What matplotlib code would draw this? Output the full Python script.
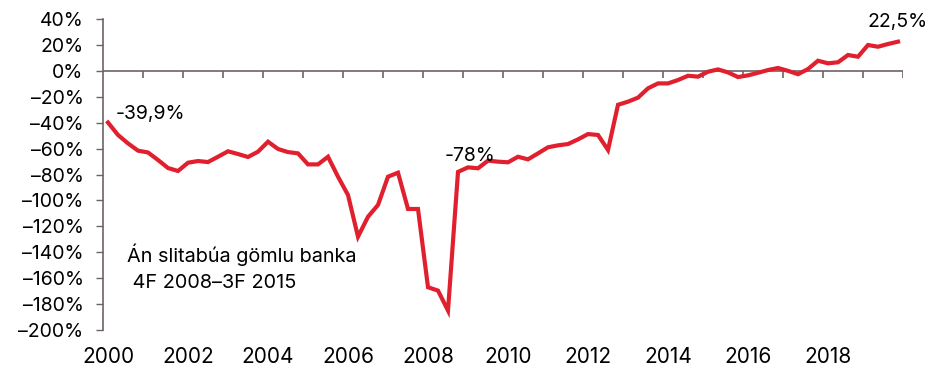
import matplotlib
matplotlib.use('Agg')
import matplotlib.pyplot as plt
import numpy as np

# Quarterly series, 2000Q1 - 2019Q4 (percent)
years = [2000, 2002, 2004, 2006, 2008, 2010, 2012, 2014, 2016, 2018]
values = [
    -39.9, -49.5, -56.0, -61.6, -63.0, -68.8, -75.0, -77.3,   # 2000-2001
    -70.9, -69.6, -70.4, -66.3, -62.1, -64.2, -66.5, -62.4,   # 2002-2003
    -54.7, -60.3, -62.7, -63.7, -72.2, -72.2, -66.3, -81.7,   # 2004-2005
    -95.8, -128.0, -112.6, -103.5, -81.7, -78.6, -106.6, -106.6,  # 2006-2007
    -167.0, -169.6, -185.0, -78.0, -74.5, -75.2, -69.3, -70.1,    # 2008-2009
    -70.6, -66.3, -68.3, -63.7, -59.0, -57.5, -56.5, -52.9,   # 2010-2011
    -48.8, -49.5, -61.1, -26.2, -23.8, -20.7, -13.5, -9.7,    # 2012-2013
    -9.7, -7.1, -3.8, -4.5, -0.7, 1.1, -1.2, -4.8,            # 2014-2015
    -3.5, -1.5, 0.6, 2.2, 0.0, -2.6, 1.4, 7.8,                # 2016-2017
    5.8, 6.6, 12.2, 10.9, 19.9, 18.6, 20.7, 22.5,             # 2018-2019
]
note_lines = ['Án slitabúa gömlu banka', ' 4F 2008\u20133F 2015']

plt.rcParams['font.family'] = ['Inter', 'DejaVu Sans']
axis_col = '#6d6266'
red = '#e0202e'
fs = 14

x = np.arange(len(values))

fig = plt.figure(figsize=(9.3, 3.7), dpi=100)
ax = fig.add_axes([103 / 930, 1 - 330 / 370, 800 / 930, 311 / 370])

ax.plot(x, values, color=red, lw=3.0, solid_joinstyle='miter', zorder=3)

ax.set_xlim(-0.5, len(values) - 0.5)
ax.set_ylim(-200, 40)

# value axis
yt = np.arange(-200, 41, 20)
ax.set_yticks(yt)
ax.set_yticklabels([f'{v}%'.replace('-', '\u2013') for v in yt], fontsize=fs)
ax.tick_params(axis='y', direction='out', length=5, width=1, color=axis_col, pad=9)

# category axis: line at zero, labels at the bottom
ax.set_xticks([years.index(y) * 8 for y in years])
ax.set_xticklabels([str(y) for y in years], fontsize=15)
ax.tick_params(axis='x', length=0, pad=12)
ax.axhline(0, color=axis_col, lw=1.2, zorder=2)
year_edges = np.arange(-0.5, len(values), 4)
ax.vlines(year_edges[1:], -5.4, 0, color=axis_col, lw=1.2, zorder=2)

for s in ['top', 'right', 'bottom']:
    ax.spines[s].set_visible(False)
ax.spines['left'].set_color(axis_col)
ax.spines['left'].set_linewidth(1.2)

def fmt(v):
    s = f'{v:.1f}'.replace('.', ',')
    return s[:-2] if s.endswith(',0') else s

ax.text(0.8, values[0] + 2.7, fmt(values[0]) + '%', fontsize=fs, ha='left', va='baseline')
ax.text(36.2, values[35] + 8.3, fmt(values[35]) + '%', fontsize=fs, ha='center', va='baseline')
ax.text(79.0, values[-1] + 11.0, fmt(values[-1]) + '%', fontsize=fs, ha='center', va='baseline')

ax.text(1.9, -147.5, note_lines[0], fontsize=14.3, ha='left', va='baseline')
ax.text(1.9, -167.6, note_lines[1], fontsize=14.3, ha='left', va='baseline')

fig.savefig('out.png', dpi=100)
